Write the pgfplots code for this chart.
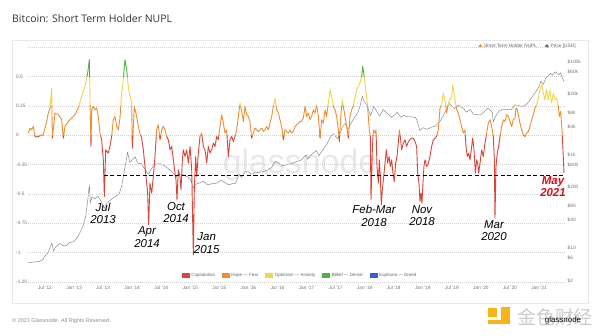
\documentclass[border=0pt]{standalone}
\usepackage{pgfplots}
\pgfplotsset{compat=1.18}
\usepackage{pgfplotstable}
\usepackage{fontspec}
\setmainfont{Liberation Sans}
\newfontfamily\titlefont{Open Sans}
\newfontfamily\cjk{Noto Sans CJK SC}

\definecolor{capred}{HTML}{D9453A}
\definecolor{hopeorange}{HTML}{EE8F2D}
\definecolor{optyellow}{HTML}{F2D54A}
\definecolor{beliefgreen}{HTML}{4DB33D}
\definecolor{euphoriablue}{HTML}{3D5BD9}
\definecolor{mayred}{HTML}{D0101B}
\definecolor{logoyellow}{HTML}{F4B41A}

\pgfplotstableread{
x v
0.213 0.017
0.242 0.060
0.271 0.045
0.299 0.074
0.328 -0.011
0.357 -0.017
0.414 -0.006
0.471 0.003
0.529 0.116
0.557 0.188
0.586 0.230
0.615 0.401
0.626 -0.026
0.672 0.188
0.729 0.173
0.787 0.131
0.815 -0.026
0.844 0.074
0.901 0.116
0.959 0.145
1.016 0.173
1.073 0.230
1.131 0.330
1.188 0.415
1.234 0.528
1.263 0.642
1.274 0.301
1.291 -0.097
1.303 0.216
1.331 0.244
1.360 0.216
1.389 0.230
1.417 0.159
1.446 0.017
1.475 -0.040
1.503 -0.210
1.521 -0.523
1.544 -0.125
1.589 -0.153
1.618 -0.097
1.647 -0.011
1.675 0.131
1.704 0.159
1.733 0.074
1.761 0.045
1.790 0.145
1.819 0.358
1.847 0.472
1.876 0.642
1.905 0.557
1.933 0.415
1.962 0.330
1.991 0.287
2.002 -0.111
2.037 0.244
2.077 0.159
2.106 0.074
2.134 0.017
2.163 -0.026
2.192 -0.125
2.220 -0.267
2.249 -0.409
2.266 -0.494
2.283 -0.764
2.306 -0.409
2.335 -0.494
2.364 -0.352
2.392 -0.182
2.421 0.045
2.450 0.088
2.479 -0.040
2.507 0.045
2.536 0.074
2.565 0.045
2.594 -0.011
2.622 -0.040
2.651 -0.125
2.680 -0.097
2.708 -0.210
2.737 -0.324
2.754 -0.381
2.771 -0.551
2.794 -0.295
2.823 -0.352
2.840 -0.466
2.863 -0.210
2.880 -0.125
2.909 -0.182
2.938 -0.125
2.966 -0.239
2.995 -0.097
3.024 -0.295
3.052 -1.020
3.070 -0.438
3.093 -0.182
3.110 -0.352
3.138 -0.153
3.167 -0.011
3.196 0.017
3.224 -0.097
3.253 -0.125
3.282 -0.239
3.310 -0.097
3.339 -0.153
3.368 -0.125
3.396 -0.068
3.425 -0.097
3.454 -0.011
3.482 -0.040
3.511 0.074
3.540 0.173
3.568 0.102
3.597 0.017
3.626 0.045
3.654 -0.182
3.683 -0.040
3.712 -0.011
3.740 -0.054
3.769 -0.011
3.798 0.045
3.826 0.159
3.855 0.273
3.884 0.202
3.912 0.116
3.941 0.244
3.970 0.173
3.998 0.159
4.027 0.116
4.056 -0.026
4.084 0.017
4.113 0.060
4.142 0.045
4.171 0.031
4.199 0.045
4.228 0.060
4.257 0.031
4.285 0.045
4.314 0.074
4.343 0.045
4.371 0.102
4.400 0.159
4.429 0.244
4.457 0.315
4.486 0.216
4.515 0.188
4.543 0.131
4.572 0.074
4.601 -0.040
4.629 0.045
4.658 0.031
4.687 0.017
4.715 0.045
4.744 0.017
4.773 0.031
4.801 0.074
4.830 0.088
4.859 0.102
4.887 0.116
4.916 0.116
4.945 0.145
4.974 0.244
5.002 0.159
5.031 0.188
5.060 0.131
5.088 0.159
5.117 0.216
5.146 0.188
5.174 0.259
5.203 0.159
5.232 -0.026
5.260 0.131
5.289 0.102
5.318 0.216
5.346 0.159
5.375 0.273
5.404 0.386
5.432 0.330
5.461 0.244
5.490 0.216
5.518 0.159
5.547 0.045
5.564 -0.054
5.593 0.188
5.616 0.301
5.633 0.244
5.662 0.159
5.690 0.074
5.719 -0.026
5.748 0.159
5.776 0.216
5.805 0.244
5.834 0.330
5.862 0.386
5.891 0.415
5.920 0.443
5.948 0.500
5.966 0.585
5.983 0.528
6.006 0.443
6.023 0.358
6.040 0.301
6.063 0.159
6.080 0.045
6.097 -0.011
6.109 -0.551
6.132 -0.125
6.149 0.045
6.178 0.017
6.195 0.045
6.212 -0.267
6.235 -0.409
6.252 -0.210
6.269 -0.352
6.287 -0.594
6.304 -0.466
6.327 -0.352
6.350 -0.239
6.373 -0.125
6.396 -0.239
6.419 -0.182
6.441 -0.267
6.464 -0.210
6.487 -0.324
6.510 -0.395
6.533 -0.239
6.556 -0.182
6.579 -0.068
6.596 0.045
6.613 -0.011
6.636 -0.125
6.665 -0.068
6.694 -0.040
6.722 -0.097
6.751 -0.054
6.780 -0.040
6.808 -0.026
6.837 -0.026
6.866 -0.054
6.894 -0.097
6.912 -0.324
6.934 -0.409
6.952 -0.565
6.969 -0.494
6.986 -0.580
7.003 -0.409
7.020 -0.267
7.038 -0.210
7.066 -0.267
7.095 -0.239
7.124 -0.182
7.152 -0.097
7.181 -0.040
7.210 -0.026
7.238 -0.011
7.267 0.045
7.296 0.230
7.325 0.259
7.353 0.358
7.382 0.301
7.411 0.188
7.439 0.273
7.468 0.301
7.497 0.330
7.514 0.429
7.537 0.358
7.554 0.301
7.583 0.216
7.611 0.188
7.640 0.131
7.669 0.074
7.697 0.017
7.726 0.045
7.743 -0.097
7.766 -0.182
7.789 -0.153
7.812 -0.210
7.841 -0.097
7.858 -0.026
7.881 -0.125
7.904 -0.324
7.927 -0.210
7.944 -0.239
7.961 -0.324
7.984 -0.239
8.013 -0.125
8.041 -0.182
8.070 -0.068
8.099 0.017
8.127 0.102
8.156 0.131
8.185 0.074
8.213 -0.011
8.231 -0.210
8.242 -0.707
8.259 -0.267
8.282 -0.153
8.305 -0.097
8.328 -0.011
8.357 0.074
8.385 0.131
8.414 0.116
8.443 0.173
8.472 0.159
8.500 0.116
8.529 0.074
8.557 0.131
8.586 0.145
8.603 0.230
8.626 0.216
8.649 0.159
8.672 0.102
8.701 0.045
8.729 0.003
8.758 -0.011
8.787 0.017
8.815 0.031
8.844 0.074
8.873 0.131
8.901 0.173
8.930 0.230
8.959 0.259
8.987 0.315
9.016 0.386
9.045 0.429
9.074 0.358
9.102 0.301
9.131 0.386
9.160 0.301
9.188 0.386
9.217 0.273
9.246 0.358
9.274 0.301
9.303 0.315
9.332 0.244
9.349 0.159
9.372 0.202
9.395 0.045
9.412 -0.125
9.429 -0.324
}\nupl

\pgfplotstableread{
x p
0.21 4.9
0.27 4.9
0.33 5.0
0.40 5.1
0.46 5.6
0.50 6.7
0.55 7.8
0.59 10.5
0.62 12.8
0.645 8.5
0.68 10.3
0.72 11.5
0.76 12.3
0.80 11.4
0.86 10.9
0.92 13.0
0.98 13.4
1.04 15.5
1.10 21
1.15 28
1.20 47
1.23 92
1.263 225
1.28 92
1.31 125
1.36 112
1.41 128
1.46 103
1.52 70
1.56 90
1.62 105
1.68 120
1.73 130
1.78 150
1.82 210
1.86 420
1.90 780
1.92 1130
1.96 680
2.00 770
2.05 900
2.10 650
2.16 640
2.22 480
2.28 380
2.32 470
2.38 610
2.45 640
2.50 630
2.56 580
2.62 500
2.70 410
2.76 330
2.80 390
2.86 375
2.92 350
2.98 320
3.02 260
3.05 190
3.08 230
3.15 245
3.22 270
3.30 225
3.38 240
3.46 245
3.53 285
3.60 250
3.66 225
3.72 238
3.78 245
3.84 380
3.88 330
3.94 430
4.00 430
4.05 380
4.12 410
4.20 420
4.30 450
4.40 530
4.46 720
4.52 660
4.58 580
4.66 610
4.75 640
4.82 710
4.90 760
4.96 900
5.00 990
5.02 800
5.08 1000
5.17 1220
5.21 960
5.28 1250
5.35 1700
5.42 2500
5.46 2800
5.54 2200
5.62 4000
5.67 4700
5.71 3500
5.77 4800
5.83 6500
5.88 7700
5.92 11000
5.96 18000
5.99 14000
6.04 11500
6.10 6900
6.16 11000
6.22 8000
6.26 6800
6.32 9300
6.40 7500
6.46 6300
6.53 7400
6.56 8200
6.62 6300
6.68 7000
6.73 6500
6.80 6500
6.87 6300
6.90 5500
6.95 3300
7.00 3800
7.08 3500
7.15 3900
7.22 4100
7.30 5300
7.38 8000
7.46 12500
7.50 11000
7.55 9700
7.62 11500
7.66 10300
7.70 10000
7.75 8200
7.82 9300
7.87 7400
7.95 7200
8.00 7200
8.06 8500
8.12 10000
8.17 8800
8.20 7800
8.21 5000
8.25 6600
8.32 8800
8.38 9500
8.45 9300
8.52 9200
8.58 11700
8.65 11500
8.70 10700
8.76 11500
8.82 13500
8.88 17500
8.95 23000
9.00 29000
9.03 38000
9.07 32000
9.12 45000
9.16 50000
9.20 56000
9.23 51000
9.28 60000
9.31 56000
9.34 52000
9.37 57000
9.40 45000
9.43 37000
}\price

\begin{document}
\begin{tikzpicture}[x=1bp,y=1bp]
\useasboundingbox (0,0) rectangle (600,335);
\fill[white] (0,0) rectangle (600,335);
\draw[black!9, line width=0.8bp] (12,32) rectangle (588,295);
\node[anchor=base west, inner sep=0pt, font=\titlefont\fontsize{10.5}{12}\selectfont, text=black!80] at (12,313) {Bitcoin: Short Term Holder NUPL};
\node[anchor=base west, inner sep=0pt, font=\fontsize{5.5}{6}\selectfont, text=black!45] at (12,13) {© 2021 Glassnode. All Rights Reserved.};
\node[font=\fontsize{34}{34}\selectfont, text=black!9] at (300,170) {glassnode};
% logo watermark
\fill[logoyellow] (488,18) rectangle (497,27);
\fill[logoyellow] (501,11) rectangle (510,28);
\fill[logoyellow] (488,11) rectangle (510,15);
\node[font=\cjk\fontsize{19}{19}\selectfont, text=black!20] at (555,18) {金色财经};
\node[font=\fontsize{8}{9}\selectfont, text=black] at (563,15) {glassnode};

% price axis (behind)
\begin{axis}[at={(28bp,53bp)}, anchor=south west, width=538bp, height=235bp, scale only axis,
  xmin=0.2075, xmax=9.464, ymode=log, ymin=1.85, ymax=2.05e5,
  axis y line*=right, hide x axis, axis line style={draw=none}, major tick length=0pt,
  ytick={2,6,10,40,80,200,600,1000,4000,8000,20000,60000,100000},
  yticklabels={\$2,\$6,\$10,\$40,\$80,\$200,\$600,\$1k,\$4k,\$8k,\$20k,\$60k,\$100k},
  yticklabel style={anchor=west, inner sep=0pt, xshift=1.5bp, font=\fontsize{4.8}{5}\selectfont, text=black!55},
  legend style={at={(1.022,1.004)}, anchor=east, draw=none, fill=none, inner sep=0pt,
    font=\fontsize{4.8}{5}\selectfont, text=black!60, legend columns=2,
    /tikz/every even column/.append style={column sep=6bp}},
  legend image code/.code={\fill[#1] (2.5bp,0bp) circle (1.6bp);}
]
\addplot[black!45, line width=0.5bp, line join=round, forget plot] table[x=x,y=p] {\price};
\addlegendimage{hopeorange}\addlegendentry{Short Term Holder NUPL}
\addlegendimage{black!60}\addlegendentry{Price [USD]}
\end{axis}

% NUPL axis
\begin{axis}[at={(28bp,53bp)}, anchor=south west, width=538bp, height=235bp, scale only axis,
  xmin=0.2075, xmax=9.464, ymin=-1.25, ymax=0.75,
  axis line style={draw=none}, major tick length=0pt,
  ytick={-1.25,-1,-0.75,-0.5,-0.25,0,0.25,0.5,0.75},
  yticklabels={-1.25,-1,-0.75,-0.5,-0.25,0,0.25,0.5,{}},
  yticklabel style={anchor=west, inner sep=0pt, xshift=-12bp, font=\fontsize{4.8}{5}\selectfont, text=black!55},
  xtick={0.5,1,1.5,2,2.5,3,3.5,4,4.5,5,5.5,6,6.5,7,7.5,8,8.5,9},
  xticklabels={Jul '12,Jan '13,Jul '13,Jan '14,Jul '14,Jan '15,Jul '15,Jan '16,Jul '16,Jan '17,Jul '17,Jan '18,Jul '18,Jan '19,Jul '19,Jan '20,Jul '20,Jan '21},
  xticklabel style={anchor=center, yshift=-6bp, font=\fontsize{4.8}{5}\selectfont, text=black!55},
  ymajorgrids, grid style={black!18, dash pattern=on 1bp off 1bp, line width=0.4bp},
  legend style={at={(0.506,0.026)}, anchor=center, draw=none, fill=none, inner sep=0pt,
    font=\fontsize{4.5}{5}\selectfont, text=black!60, legend columns=5,
    /tikz/every even column/.append style={column sep=5bp}},
  legend image code/.code={\fill[#1] (0bp,-1.8bp) rectangle (7bp,2.2bp);}
]
\begin{scope}
\clip (axis cs:0,-2) rectangle (axis cs:10,0);
\addplot[capred, line width=0.9bp, line join=round, forget plot] table[x=x,y=v] {\nupl};
\end{scope}
\begin{scope}
\clip (axis cs:0,0) rectangle (axis cs:10,0.25);
\addplot[hopeorange, line width=0.9bp, line join=round, forget plot] table[x=x,y=v] {\nupl};
\end{scope}
\begin{scope}
\clip (axis cs:0,0.25) rectangle (axis cs:10,0.5);
\addplot[optyellow, line width=0.9bp, line join=round, forget plot] table[x=x,y=v] {\nupl};
\end{scope}
\begin{scope}
\clip (axis cs:0,0.5) rectangle (axis cs:10,1);
\addplot[beliefgreen, line width=0.9bp, line join=round, forget plot] table[x=x,y=v] {\nupl};
\end{scope}
\addplot[black, line width=1bp, dash pattern=on 4bp off 2.5bp, forget plot] coordinates {(1.515,-0.34) (9.43,-0.34)};

\addlegendimage{capred}\addlegendentry{Capitulation}
\addlegendimage{hopeorange}\addlegendentry{Hope — Fear}
\addlegendimage{optyellow}\addlegendentry{Optimism — Anxiety}
\addlegendimage{beliefgreen}\addlegendentry{Belief — Denial}
\addlegendimage{euphoriablue}\addlegendentry{Euphoria — Greed}

\begin{scope}[every node/.style={font=\itshape\fontsize{11.5}{12.5}\selectfont, align=center, inner sep=0pt}]
\node at (axis cs:1.498,-0.666) {Jul\\2013};
\node at (axis cs:2.255,-0.867) {Apr\\2014};
\node at (axis cs:2.754,-0.661) {Oct\\2014};
\node at (axis cs:3.282,-0.919) {Jan\\2015};
\node at (axis cs:6.161,-0.687) {Feb-Mar\\2018};
\node at (axis cs:6.987,-0.687) {Nov\\2018};
\node at (axis cs:8.225,-0.813) {Mar\\2020};
\node[font=\bfseries\itshape\fontsize{11.5}{12.5}\selectfont, text=mayred] at (axis cs:9.240,-0.437) {May\\2021};
\end{scope}
\end{axis}
\end{tikzpicture}
\end{document}
